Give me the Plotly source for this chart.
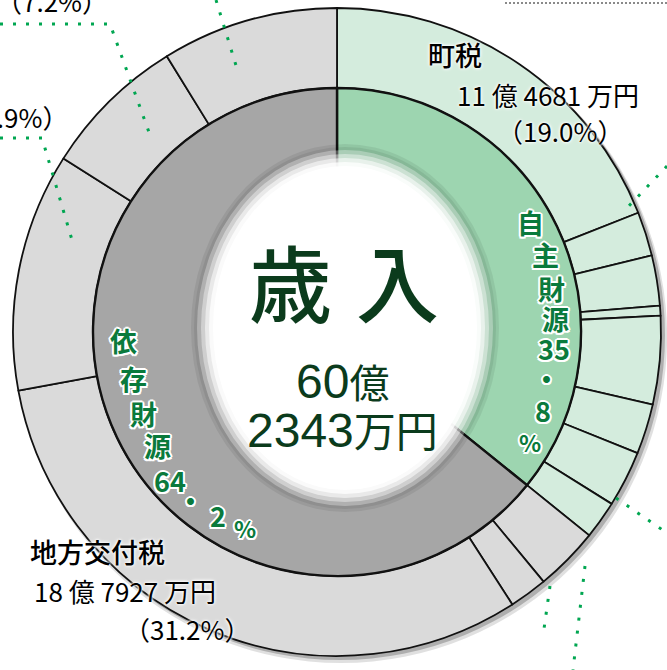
import plotly.graph_objects as go

# --- DATA ---
outer_labels = ["町税", "自主財源2", "自主財源3", "自主財源4", "自主財源5", "自主財源6", "自主財源7", "自主財源8",
                "依存財源1", "依存財源2", "地方交付税", "依存財源4", "依存財源5", "依存財源6"]
outer_values = [19.0, 2.2, 2.5, 0.5, 4.4, 2.5, 2.8, 1.9,
                3.2, 1.9, 31.2, 11.9, 7.2, 8.8]
outer_group = ["self"] * 8 + ["dep"] * 6

inner_labels = ["自主財源", "依存財源"]
inner_values = [35.8, 64.2]

total_oku, total_man = 60, 2343
choze_oku, choze_man = 11, 4681
kofu_oku, kofu_man = 18, 7927

# --- CONFIG ---
W, H = 667, 670
CX, CY = 337, 332          # ring centre in px (from top-left)
R_OUT, R_MID = 324, 244    # outer ring / inner ring radii

DARK = "#0b3b1c"
GREEN_TXT = "#0a7a3c"
SELF_OUT, DEP_OUT = "#d4ecdd", "#dadada"
SELF_IN, DEP_IN = "#9dd5b0", "#a6a6a6"


def px(x, y):
    return x / W, 1 - y / H


def domain(r, cx=CX, cy=CY):
    return dict(x=[(cx - r) / W, (cx + r) / W], y=[(H - cy - r) / H, (H - cy + r) / H])


def ring(values, colors, r, hole, line_w=0, line_c="black", cx=CX, cy=CY):
    return go.Pie(values=values, labels=[str(i) for i in range(len(values))],
                  domain=domain(r, cx, cy), hole=hole, sort=False,
                  direction="clockwise", rotation=0, textinfo="none",
                  hoverinfo="skip", showlegend=False,
                  marker=dict(colors=colors, line=dict(color=line_c, width=line_w)))


fig = go.Figure()

# soft drop shadow behind the outer ring
fig.add_trace(ring([1], ["rgba(0,0,0,0.22)"], 325, 0.9, cx=340, cy=335))
fig.add_trace(ring([1], ["rgba(0,0,0,0.12)"], 326, 0.9, cx=341, cy=337))

# outer ring
outer_colors = [SELF_OUT if g == "self" else DEP_OUT for g in outer_group]
fig.add_trace(go.Pie(values=outer_values, labels=outer_labels, domain=domain(R_OUT),
                     hole=R_MID / R_OUT, sort=False, direction="clockwise", rotation=0,
                     textinfo="none", hoverinfo="label+percent", showlegend=False,
                     marker=dict(colors=outer_colors, line=dict(color="#111", width=1.8))))

# inner ring
fig.add_trace(go.Pie(values=inner_values, labels=inner_labels, domain=domain(R_MID),
                     hole=0.45, sort=False, direction="clockwise", rotation=0,
                     textinfo="none", hoverinfo="label+percent", showlegend=False,
                     marker=dict(colors=[SELF_IN, DEP_IN], line=dict(color="#111", width=2.4))))

shapes = []

# hole with inner shadow (slightly oval like the original)
HX, HY, RX, RY = 345, 328, 146, 176
shadow_steps = [(8, "rgba(0,0,0,0.07)"), (5, "rgba(0,0,0,0.07)"),
                (2, "rgba(255,255,255,0.30)"), (-2, "rgba(255,255,255,0.40)"),
                (-6, "rgba(255,255,255,0.55)"), (-10, "rgba(255,255,255,0.75)"),
                (-14, "rgba(255,255,255,1)")]
for d, col in shadow_steps:
    x0, y0 = px(HX - RX - d, HY - RY - d)
    x1, y1 = px(HX + RX + d, HY + RY + d)
    shapes.append(dict(type="circle", xref="paper", yref="paper", x0=x0, y0=y0, x1=x1, y1=y1,
                       fillcolor=col, line=dict(width=0), layer="above"))

# dotted leader lines
leaders = [
    [(0, 24), (110, 24), (150, 135)],
    [(0, 138), (42, 138), (72, 240)],
    [(216, 0), (238, 72)],
    [(667, 166), (627, 208)],
    [(616, 498), (667, 533)],
    [(585, 566), (573, 670)],
    [(550, 586), (543, 636)],
]
for pts in leaders:
    path = " ".join(("M" if i == 0 else "L") + " %.5f,%.5f" % px(x, y) for i, (x, y) in enumerate(pts))
    shapes.append(dict(type="path", xref="paper", yref="paper", path=path,
                       line=dict(color="#00a651", width=3, dash="3px,10px"), layer="above"))
x0, y0 = px(505, 3)
x1, y1 = px(667, 3)
shapes.append(dict(type="line", xref="paper", yref="paper", x0=x0, y0=y0, x1=x1, y1=y1,
                   line=dict(color="#8a8a8a", width=2, dash="2px,2px"), layer="above"))

# --- TEXT ---
annotations = []
JP = "Noto Sans CJK JP"
HALO = "0 0 2px #fff, 0 0 3px #fff, 0 0 4px #fff"
OUTLINE = ("2px 0 0 #fff, -2px 0 0 #fff, 0 2px 0 #fff, 0 -2px 0 #fff, "
           "1.5px 1.5px 0 #fff, -1.5px -1.5px 0 #fff, 1.5px -1.5px 0 #fff, -1.5px 1.5px 0 #fff")


def note(text, x, y, size, color="black", family=JP, weight=400, shadow=None, xanchor="center"):
    ax, ay = px(x, y)
    f = dict(size=size, color=color, family=family, weight=weight)
    if shadow:
        f["shadow"] = shadow
    annotations.append(dict(text=text, x=ax, y=ay, xref="paper", yref="paper", showarrow=False,
                            xanchor=xanchor, yanchor="middle", font=f))


# centre
note("歳", 290, 280, 83, DARK, weight=500)
note("入", 397, 280, 83, DARK, weight=500)
note(f"{total_oku}<span style='font-size:40px;font-family:{JP}'>億</span>", 343, 381, 48, DARK,
     family="Liberation Sans, " + JP)
note(f"{total_man}<span style='font-size:42px;font-family:{JP}'>万円</span>", 343, 428, 48, DARK,
     family="Liberation Sans, " + JP)

# vertical ring labels
def split_pct(v):
    a, b = f"{v:.1f}".split(".")
    return [a, "・", b, "%"]

self_chars = list(inner_labels[0]) + split_pct(inner_values[0])
self_pos = [(530, 222), (545, 254), (551, 288), (555, 318), (554, 348), (546, 378), (543, 410), (530, 442)]
dep_chars = list(inner_labels[1]) + split_pct(inner_values[1])
dep_pos = [(123, 340), (133, 378), (143, 413), (157, 445), (170, 480), (190, 500), (218, 515), (245, 528)]
for chars, pos in ((self_chars, self_pos), (dep_chars, dep_pos)):
    for ch, (x, y) in zip(chars, pos):
        size = 23 if ch == "%" else 27
        note(ch, x, y, size, GREEN_TXT, weight=700, shadow=OUTLINE)

# segment labels
note(outer_labels[0], 455, 54, 27, weight=500, shadow=HALO)
note(f"{choze_oku} 億 {choze_man} 万円", 548, 94, 26, shadow=HALO)
note(f"（{outer_values[0]:.1f}%）", 560, 131, 26, shadow=HALO)
note(outer_labels[10], 97, 551, 27, weight=500, shadow=HALO)
note(f"{kofu_oku} 億 {kofu_man} 万円", 125, 590, 26, shadow=HALO)
note(f"（{outer_values[10]:.1f}%）", 187, 628, 26, shadow=HALO)
note(f"（{outer_values[12]:.1f}%）", 110, 0, 26, shadow=HALO, xanchor="right")
note(f"（{outer_values[11]:.1f}%）", 70, 116, 26, shadow=HALO, xanchor="right")

fig.update_layout(
    width=W, height=H,
    margin=dict(l=0, r=0, t=0, b=0),
    paper_bgcolor="white", plot_bgcolor="white",
    shapes=shapes, annotations=annotations,
)

# the page body has a default 8px margin; drop it so the figure fills the window
fig.write_html("out.html", config={"displayModeBar": False},
               post_script="document.body.style.margin='0';")
